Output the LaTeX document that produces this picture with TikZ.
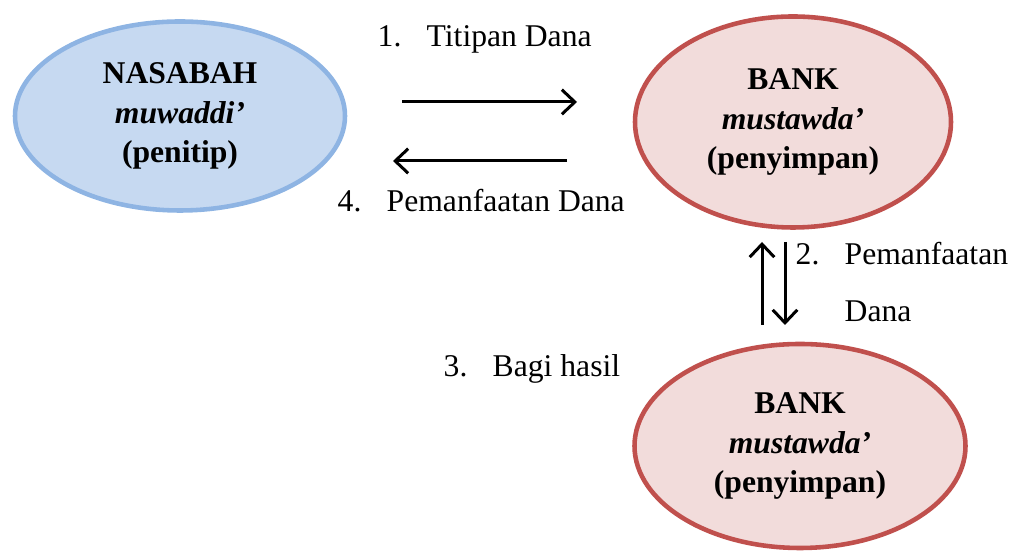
\documentclass[tikz,border=0pt]{standalone}
\usepackage{fontspec}
\setmainfont{Liberation Serif}
\usetikzlibrary{arrows.meta,positioning,shapes.geometric}

\definecolor{cliFill}{HTML}{C6D9F1}
\definecolor{cliLine}{HTML}{8EB4E3}
\definecolor{bankFill}{HTML}{F2DCDB}
\definecolor{bankLine}{HTML}{C0504D}
\newcommand{\numbox}[1]{\makebox[1.55em][l]{#1}}

\begin{document}
\begin{tikzpicture}[
  x=0.1mm, y=-0.1mm,
  every node/.style={font=\fontsize{9}{10}\selectfont},
  party/.style={draw, ellipse, line width=1.3pt, align=center, inner sep=0pt,
                font=\fontsize{9}{11.2}\selectfont\bfseries},
  client/.style={party, draw=cliLine, fill=cliFill},
  bank/.style={party, draw=bankLine, fill=bankFill},
  flowlbl/.style={anchor=base west, inner sep=0pt},
  line/.style={-{Straight Barb[length=3.7pt,width=7pt]}, line width=0.85pt}
]
\useasboundingbox (0,0) rectangle (1015,552);

% ===== Parties =====
\node[client, minimum width=33mm, minimum height=18.9mm] (nasabah) at (180,116)
  {NASABAH\\\textit{muwaddi'}\\(penitip)};
\node[bank, minimum width=31.6mm, minimum height=21.1mm] (bankA) at (793,122)
  {BANK\\\textit{mustawda'}\\(penyimpan)};
\node[bank, minimum width=33.1mm, minimum height=20.4mm] (bankB) at (800,446)
  {BANK\\\textit{mustawda'}\\(penyimpan)};

% ===== Arrow ends =====
\coordinate (titipS) at (402,102);
\coordinate (titipE) at (577,102);
\coordinate (balikS) at (567,161);
\coordinate (balikE) at (393,161);
\coordinate (hasilS) at (762,325);
\coordinate (hasilE) at (762,242);
\coordinate (salurS) at (785,242);
\coordinate (salurE) at (785,325);

% ===== Labels =====
\node[flowlbl] (lblTitip) at (377,47) {\numbox{1.}Titipan Dana};
\node[flowlbl] (lblBalik) at (337,212) {\numbox{4.}Pemanfaatan Dana};
\node[flowlbl] (lblSalur) at (795,265) {\numbox{2.}Pemanfaatan};
\node[flowlbl] (lblDana) at (795,322) {\numbox{}Dana};
\node[flowlbl] (lblHasil) at (443,377) {\numbox{3.}Bagi hasil};

% ===== Flows =====
\draw[line] (titipS) -- (titipE);
\draw[line] (balikS) -- (balikE);
\draw[line] (salurS) -- (salurE);
\draw[line] (hasilS) -- (hasilE);

\end{tikzpicture}
\end{document}
